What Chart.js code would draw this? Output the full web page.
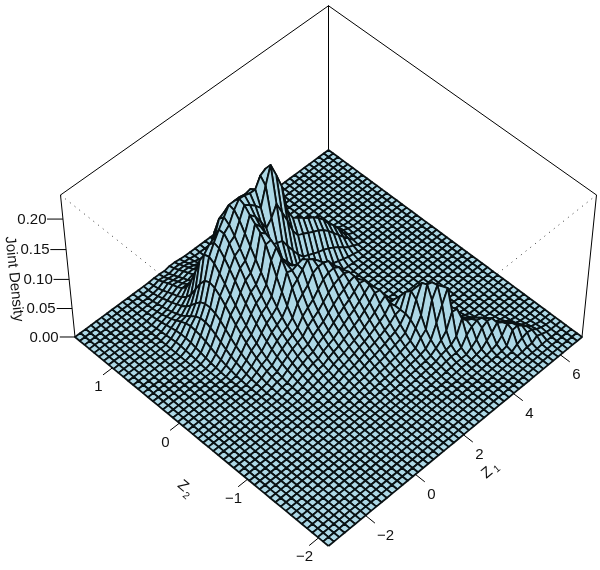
<!DOCTYPE html>
<html>
<head>
<meta charset="utf-8">
<script src="https://cdn.jsdelivr.net/npm/chart.js@4/dist/chart.umd.min.js"></script>
<style>html,body{margin:0;padding:0;background:#fff}canvas{display:block}</style>
</head>
<body>
<canvas id="c" width="600" height="570"></canvas>
<script>
// Axis ticks (values) and where they sit along their box edge (fraction of the edge).
const z1Ticks = [-2, 0, 2, 4, 6];
const z1TickFrac = [0.139, 0.330, 0.518, 0.718, 0.910];
const z2Ticks = [-2, -1, 0, 1];
const z2TickFrac = [0.037, 0.307, 0.574, 0.845];
const zTicks = [0, 0.05, 0.10, 0.15, 0.20];
const zMax = 0.2386;
const gridCells = 50;

// Joint density, in thousandths.
// Each row: [z1 grid column, first z2 grid row, values for consecutive z2 rows...]
const densityColumns = [
[9,34,1,2,3,4,5,5,4,3,2,1],
[10,31,1,2,3,5,7,9,11,12,12,11,9,7,5,3,2,1],
[11,28,1,2,4,6,9,12,16,20,23,25,26,24,20,15,11,8,5,3,2,1],
[12,25,1,2,3,5,8,11,15,20,26,32,37,40,40,36,30,23,17,13,10,7,5,3,1],
[13,23,1,2,3,5,8,11,15,20,26,33,41,49,55,58,58,54,45,35,26,20,16,12,9,6,3,1],
[14,21,1,2,3,5,7,10,14,19,25,32,40,49,59,69,78,85,88,84,72,56,40,29,22,17,14,10,6,3,1],
[15,20,1,2,3,4,6,9,13,18,24,31,39,48,58,69,80,92,103,113,118,115,98,72,50,33,24,19,16,12,8,4,1],
[16,18,1,2,3,4,6,9,12,16,21,27,34,42,51,61,72,84,97,110,122,132,135,125,100,72,48,32,24,19,15,11,7,3,1],
[17,17,1,2,3,5,7,10,13,17,22,28,35,43,52,62,73,85,98,112,126,140,150,150,130,100,70,46,30,23,18,14,10,6,2,0],
[18,16,1,2,3,5,7,10,13,17,22,28,34,41,49,58,68,79,91,104,118,132,146,158,164,155,128,95,65,42,28,21,17,13,9,5,2],
[19,15,1,2,3,5,7,10,13,17,21,26,32,38,46,55,66,78,91,105,120,135,150,165,176,178,160,125,88,58,38,27,21,17,13,9,5,2],
[20,14,1,2,3,4,6,8,11,14,18,23,29,36,44,54,68,85,104,125,145,158,166,174,184,188,178,148,108,72,47,31,23,18,14,10,7,3,1],
[21,13,1,2,3,5,7,9,12,15,19,24,30,37,46,57,72,92,112,128,140,146,150,155,165,178,187,178,145,103,67,42,27,20,15,11,7,4,2],
[22,13,1,2,4,6,8,11,14,18,23,28,35,43,53,65,82,100,108,112,114,118,125,135,150,170,184,176,142,100,63,38,23,15,10,6,3,1],
[23,12,1,2,3,5,7,10,13,17,21,26,32,39,48,59,72,90,110,112,103,97,95,100,112,133,160,184,178,140,95,58,33,18,10,5,2],
[24,12,1,2,4,6,9,12,16,20,25,31,38,46,56,68,83,104,120,114,97,84,80,88,108,143,190,200,170,128,84,50,27,13,6,2],
[25,12,1,3,5,8,11,15,19,24,29,36,44,53,64,77,93,108,114,105,87,72,66,76,105,160,217,205,160,115,72,40,20,9,3,1],
[26,11,1,2,4,6,9,13,17,22,27,33,41,50,60,71,84,98,108,105,92,74,60,55,63,90,140,195,180,135,92,55,28,13,5,1],
[27,11,1,3,5,8,11,15,20,25,31,38,46,55,65,76,88,99,104,95,80,62,48,44,52,76,120,170,150,105,68,38,18,7,2],
[28,10,1,2,4,6,9,13,18,23,29,36,44,53,62,72,82,90,94,90,78,62,47,36,32,40,62,96,123,110,76,46,24,10,3],
[29,10,2,3,5,8,11,15,21,27,33,41,50,60,70,80,85,86,82,72,58,44,32,24,22,31,52,82,105,92,62,36,17,6,1],
[30,9,1,2,4,6,9,13,18,24,30,38,47,58,70,77,78,73,65,55,44,33,23,15,12,14,26,48,78,99,84,54,30,14,4],
[31,9,1,3,5,7,11,15,21,28,36,46,58,65,68,66,60,52,43,34,25,17,11,7,6,10,22,44,73,92,77,48,25,10,3],
[32,8,1,2,4,6,9,14,26,36,44,48,48,48,46,42,37,31,25,19,14,9,6,4,3,4,8,19,40,68,85,70,42,20,8,2],
[33,8,1,3,6,10,15,23,34,52,72,80,72,58,46,35,26,19,13,9,6,3,2,1,1,2,6,17,37,64,80,64,37,16,6,1],
[34,8,2,4,7,12,22,45,78,98,94,80,66,52,40,30,21,15,10,7,4,2,1,0,0,1,4,14,33,58,72,56,31,13,4,1],
[35,7,1,2,4,7,14,32,70,97,95,80,64,50,38,28,20,13,9,5,3,1,0,0,0,0,0,3,11,28,50,63,48,26,10,3],
[36,7,1,2,4,9,22,58,92,88,72,56,42,31,22,15,10,6,3,1,0,0,0,0,0,0,0,2,8,22,40,50,38,20,8,2],
[37,6,1,2,4,9,24,46,56,52,43,34,27,19,13,8,5,2,1,0,0,0,0,0,0,0,0,0,1,5,15,30,40,29,15,5,1],
[38,6,1,3,6,16,32,36,30,24,18,13,9,5,3,1,0,0,0,0,0,0,0,0,0,0,0,0,0,3,9,20,28,20,9,3],
[39,5,1,2,5,14,30,36,32,25,18,12,8,4,2,1,0,0,0,0,0,0,0,0,0,0,0,0,0,0,1,5,11,14,9,4,1],
[40,5,1,3,8,22,35,34,27,19,13,8,4,2,1,0,0,0,0,0,0,0,0,0,0,0,0,0,0,0,0,0,2,5,6,4,1],
[41,4,1,2,5,16,32,33,26,18,12,7,4,2,1,0,0,0,0,0,0,0,0,0,0,0,0,0,0,0,0,0,0,0,1,2,1],
[42,4,1,8,26,30,26,18,11,6,3,1],
[43,4,3,12,27,25,19,12,7,3,1],
[44,4,3,15,20,17,12,7,3,1],
[45,3,1,9,13,12,8,4,2,1],
[46,3,1,5,7,5,3,1],
[47,4,2,3,2,1],
[48,5,1]
];

// View of the box: a = along Z1, b = along Z2, h = height fraction of zMax.
function project(a, b, h) {
  const s = a + b;
  const w = 1 + 0.0588 * s - 0.0573 * h;
  return { x: 328.5 + 268.4 * (a - b) / w, y: (546 - 189.2 * s - 161.5 * h) / w };
}

const n = gridCells + 1;
const heights = Array.from({ length: n }, () => new Array(n).fill(0));
densityColumns.forEach(([col, first, ...vals]) => {
  vals.forEach((v, k) => { if (first + k < n) heights[col][first + k] = v / 1000; });
});
const vertex = (i, j) => project(i / gridCells, j / gridCells, heights[i][j] / zMax);

const lineDs = (pts, extra) => Object.assign({
  data: pts, showLine: true, pointRadius: 0, borderColor: '#000', borderWidth: 1,
  tension: 0, clip: false, spanGaps: true, fill: false
}, extra || {});

// Datasets listed back-to-front, then reversed because Chart.js paints index 0 last.
const layers = [];
const dotted = { borderDash: [1, 5], borderColor: '#333' };
layers.push(lineDs([project(0, 1, 1), project(0, 0, 1), project(1, 0, 1)], dotted));
layers.push(lineDs([project(0, 0, 1), project(0, 0, 0)], dotted));
layers.push(lineDs([project(0, 1, 0), project(0, 1, 1), project(1, 1, 1), project(1, 0, 1), project(1, 0, 0)]));
layers.push(lineDs([project(1, 1, 1), project(1, 1, 0)]));

const cells = [];
for (let i = 0; i < gridCells; i++) for (let j = 0; j < gridCells; j++) cells.push([i, j]);
cells.sort((p, q) => (q[0] + q[1]) - (p[0] + p[1]));
cells.forEach(([i, j]) => {
  const p = vertex(i, j);
  layers.push(lineDs([p, vertex(i + 1, j), vertex(i + 1, j + 1), vertex(i, j + 1), p],
    { borderColor: '#0a1214', borderWidth: 1.8, surfaceCell: true, borderJoinStyle: 'round' }));
});

z1TickFrac.forEach(f => layers.push(lineDs([project(f, 0, 0), project(f, -0.035, 0)])));
z2TickFrac.forEach(f => layers.push(lineDs([project(0, f, 0), project(-0.035, f, 0)])));
zTicks.forEach(t => layers.push(lineDs([project(0, 1, t / zMax), project(-0.03, 1.03, t / zMax)])));

const surfaceFill = {
  id: 'surfaceFill',
  beforeDatasetDraw(chart, args) {
    const ds = chart.data.datasets[args.index];
    if (!ds.surfaceCell) return;
    const pts = args.meta.data, ctx = chart.ctx;
    ctx.save();
    ctx.beginPath();
    pts.forEach((p, k) => k ? ctx.lineTo(p.x, p.y) : ctx.moveTo(p.x, p.y));
    ctx.closePath();
    ctx.fillStyle = '#add8e6';
    ctx.fill();
    ctx.restore();
  }
};

const FONT = '"Liberation Sans", Arial, sans-serif';
function text(ctx, str, x, y, size, rot) {
  ctx.save();
  ctx.translate(x, y);
  if (rot) ctx.rotate(rot * Math.PI / 180);
  ctx.font = size + 'px ' + FONT;
  ctx.fillStyle = '#111';
  ctx.textAlign = 'center';
  ctx.textBaseline = 'middle';
  ctx.fillText(str, 0, 0);
  ctx.restore();
}
const axisText = {
  id: 'axisText',
  afterDraw(chart) {
    const ctx = chart.ctx, sx = chart.scales.x, sy = chart.scales.y;
    const at = p => ({ x: sx.getPixelForValue(p.x), y: sy.getPixelForValue(p.y) });
    const fmt = v => String(v).replace('-', '\u2212');
    z1Ticks.forEach((t, k) => {
      const p = at(project(z1TickFrac[k], 0, 0));
      text(ctx, fmt(t), p.x + (t < 0 ? 20 : 16), p.y + 20, 15);
    });
    z2Ticks.forEach((t, k) => {
      const p = at(project(0, z2TickFrac[k], 0));
      text(ctx, fmt(t), p.x - 14, p.y + 19.5, 15);
    });
    zTicks.forEach(t => {
      const p = at(project(0, 1, t / zMax));
      text(ctx, t.toFixed(2), p.x - 31, p.y + 0.5, 15);
    });
    text(ctx, 'Joint Density', 14, 279, 15, 84);
    text(ctx, 'Z', 487, 473, 15, -40);
    text(ctx, '1', 497, 469, 10, -40);
    text(ctx, 'Z', 183, 486, 15, 40);
    text(ctx, '2', 186, 496, 10, 40);
  }
};

new Chart(document.getElementById('c'), {
  type: 'scatter',
  data: { datasets: layers.reverse() },
  options: {
    responsive: false,
    animation: false,
    events: [],
    layout: { padding: 0 },
    plugins: { legend: { display: false }, tooltip: { enabled: false }, title: { display: false } },
    scales: {
      x: { type: 'linear', min: 0, max: 600, display: false },
      y: { type: 'linear', min: 0, max: 570, reverse: true, display: false }
    }
  },
  plugins: [surfaceFill, axisText]
});
</script>
</body>
</html>
